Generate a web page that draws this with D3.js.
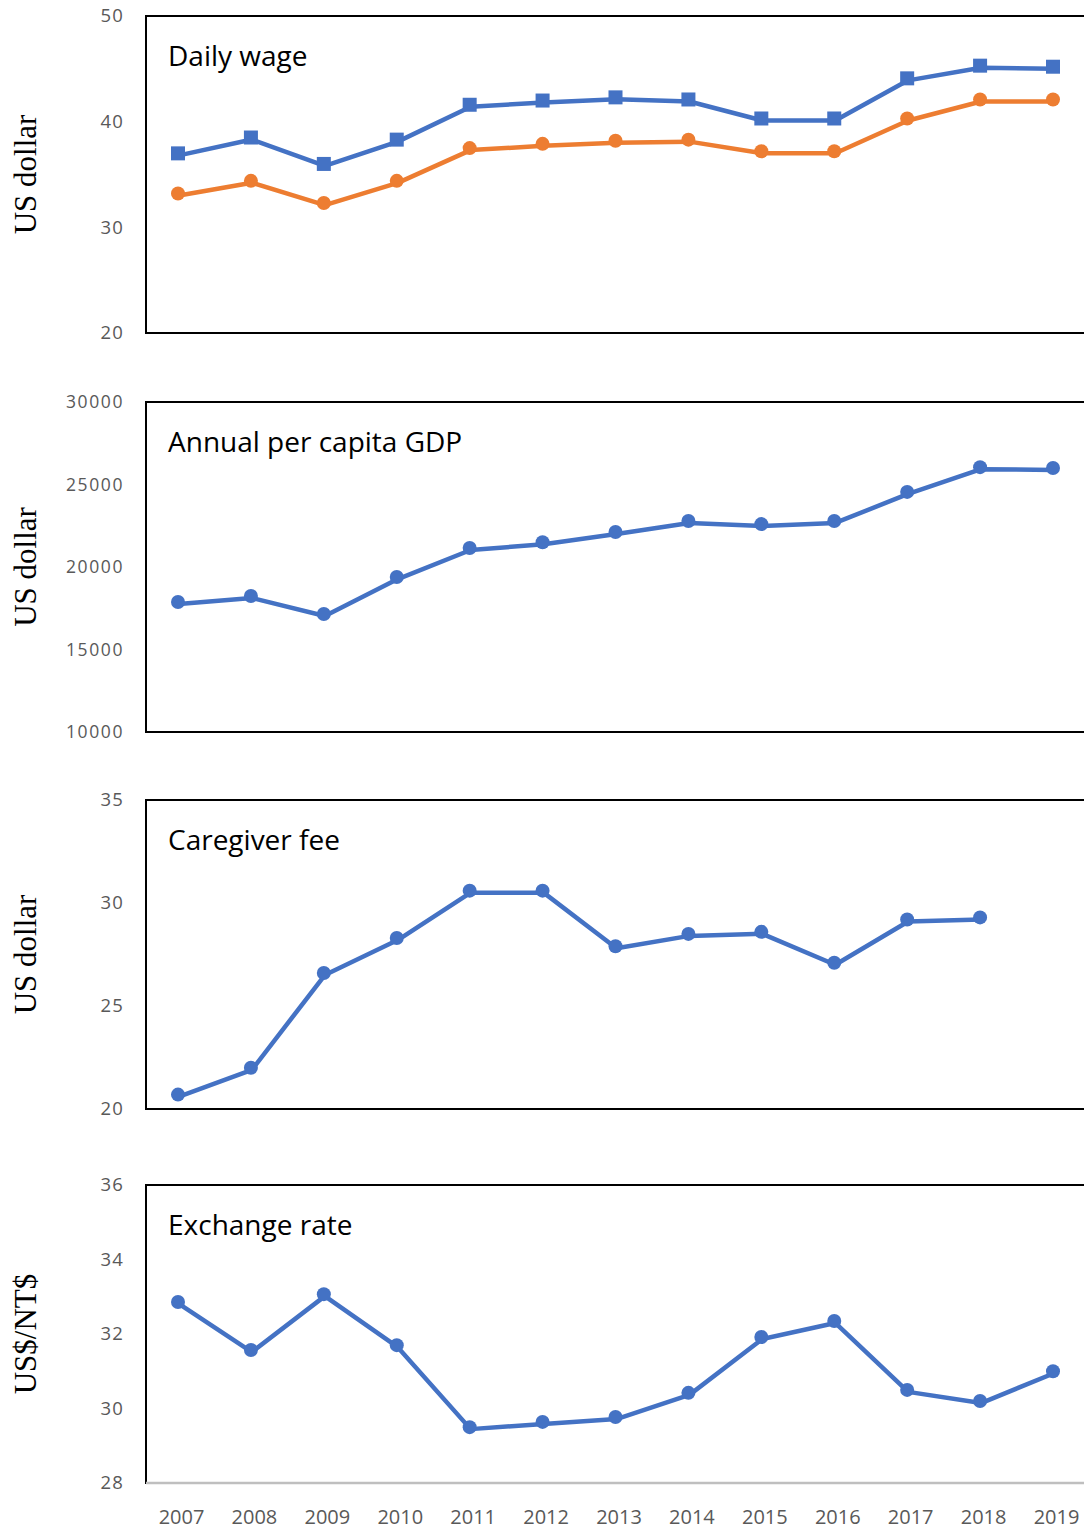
<!DOCTYPE html>
<html>
<head>
<meta charset="utf-8">
<script src="https://cdn.jsdelivr.net/npm/d3@7"></script>
<style>
  html, body { margin: 0; padding: 0; background: #ffffff; }
  svg { display: block; }
</style>
</head>
<body>
<svg id="chart" width="1084" height="1530"></svg>
<script>
// ---- data ----
const years = [2007, 2008, 2009, 2010, 2011, 2012, 2013, 2014, 2015, 2016, 2017, 2018, 2019];

const dailyWageA = [37.0, 38.5, 36.0, 38.3, 41.6, 42.0, 42.3, 42.1, 40.3, 40.3, 44.1, 45.3, 45.2];
const dailyWageB = [33.2, 34.4, 32.3, 34.4, 37.5, 37.9, 38.2, 38.3, 37.2, 37.2, 40.3, 42.1, 42.1];
const gdpPerCapita = [17880, 18240, 17150, 19390, 21150, 21500, 22120, 22790, 22600, 22790, 24550, 26050, 26000];
const caregiverFee = [20.7, 22.0, 26.6, 28.3, 30.6, 30.6, 27.9, 28.5, 28.6, 27.1, 29.2, 29.3, null];
const exchangeRate = [32.86, 31.57, 33.07, 31.70, 29.50, 29.64, 29.77, 30.42, 31.92, 32.35, 30.50, 30.20, 31.00];

const wageTicks = [20, 30, 40, 50];
const gdpTicks = [10000, 15000, 20000, 25000, 30000];
const feeTicks = [20, 25, 30, 35];
const rateTicks = [28, 30, 32, 34, 36];

// ---- layout ----
const BLUE = "#4472C4", ORANGE = "#ED7D31";
const SANS = "'Open Sans', Lato, sans-serif";
const boxLeft = 146, boxRight = 1094;
const svg = d3.select("#chart");

const x = d3.scalePoint().domain(years).range([178, 1053]);

const panels = [
  { title: "Daily wage", ylabel: "US dollar", top: 16, bottom: 333, domain: [20, 50], ticks: wageTicks, tickFont: [18.5, 1.2],
    series: [{ values: dailyWageA, color: BLUE, shape: "square" }, { values: dailyWageB, color: ORANGE, shape: "circle" }] },
  { title: "Annual per capita GDP", ylabel: "US dollar", top: 402, bottom: 732, domain: [10000, 30000], ticks: gdpTicks, tickFont: [17.5, 1.6],
    series: [{ values: gdpPerCapita, color: BLUE, shape: "circle" }] },
  { title: "Caregiver fee", ylabel: "US dollar", top: 800, bottom: 1109, domain: [20, 35], ticks: feeTicks, tickFont: [18.5, 1.2],
    series: [{ values: caregiverFee, color: BLUE, shape: "circle" }] },
  { title: "Exchange rate", ylabel: "US$/NT$", top: 1185, bottom: 1483, domain: [28, 36], ticks: rateTicks, tickFont: [18.5, 1.2],
    series: [{ values: exchangeRate, color: BLUE, shape: "circle" }], xAxis: true }
];

panels.forEach(p => {
  const g = svg.append("g");
  const y = d3.scaleLinear().domain(p.domain).range([p.bottom, p.top]);

  // y axis tick labels
  const yAxis = d3.axisLeft(y).tickValues(p.ticks).tickSize(0).tickPadding(0).tickFormat(d3.format("d"));
  const ya = g.append("g").attr("transform", `translate(124,0)`).call(yAxis);
  ya.select(".domain").remove();
  ya.selectAll("text")
    .attr("fill", "#595959")
    .style("font-family", SANS)
    .style("font-size", p.tickFont[0] + "px")
    .style("letter-spacing", p.tickFont[1] + "px");

  // series lines and markers
  p.series.forEach(s => {
    const pts = years.map((yr, i) => ({ yr, v: s.values[i] })).filter(d => d.v != null);
    const line = d3.line().x(d => x(d.yr)).y(d => y(d.v));
    g.append("path")
      .datum(pts)
      .attr("d", line)
      .attr("transform", "translate(1,2)")
      .attr("fill", "none")
      .attr("stroke", s.color)
      .attr("stroke-width", 4.5)
      .attr("stroke-linejoin", "round");
    if (s.shape === "square") {
      g.selectAll(null).data(pts).enter().append("rect")
        .attr("x", d => x(d.yr) - 7)
        .attr("y", d => y(d.v) - 7)
        .attr("width", 14).attr("height", 14)
        .attr("fill", s.color);
    } else {
      g.selectAll(null).data(pts).enter().append("circle")
        .attr("cx", d => x(d.yr))
        .attr("cy", d => y(d.v))
        .attr("r", 7)
        .attr("fill", s.color);
    }
  });

  // frame
  g.append("line").attr("x1", boxLeft).attr("x2", boxRight).attr("y1", p.top).attr("y2", p.top)
    .attr("stroke", "#000").attr("stroke-width", 2);
  g.append("line").attr("x1", boxLeft).attr("x2", boxLeft).attr("y1", p.top - 1).attr("y2", p.bottom + 1)
    .attr("stroke", "#000").attr("stroke-width", 2);
  g.append("line").attr("x1", boxLeft).attr("x2", boxRight).attr("y1", p.bottom).attr("y2", p.bottom)
    .attr("stroke", p.xAxis ? "#BFBFBF" : "#000").attr("stroke-width", p.xAxis ? 2.5 : 2);

  // panel title
  g.append("text")
    .attr("x", 168)
    .attr("y", p.top + 49.5)
    .attr("fill", "#000")
    .style("font-family", SANS)
    .style("font-size", "28px")
    .text(p.title);

  // y axis label
  const cy = (p.top + p.bottom) / 2;
  g.append("text")
    .attr("transform", `translate(36,${cy}) rotate(-90)`)
    .attr("text-anchor", "middle")
    .attr("fill", "#000")
    .style("font-family", "'Liberation Serif', 'Times New Roman', serif")
    .style("font-size", "31px")
    .text(p.ylabel);

  // x axis labels
  if (p.xAxis) {
    const xa = g.append("g").attr("transform", `translate(3,${p.bottom})`)
      .call(d3.axisBottom(x).tickSize(0).tickPadding(27).tickFormat(d3.format("d")));
    xa.select(".domain").remove();
    xa.selectAll("text")
      .attr("fill", "#595959")
      .style("font-family", SANS)
      .style("font-size", "20px");
  }
});
</script>
</body>
</html>
